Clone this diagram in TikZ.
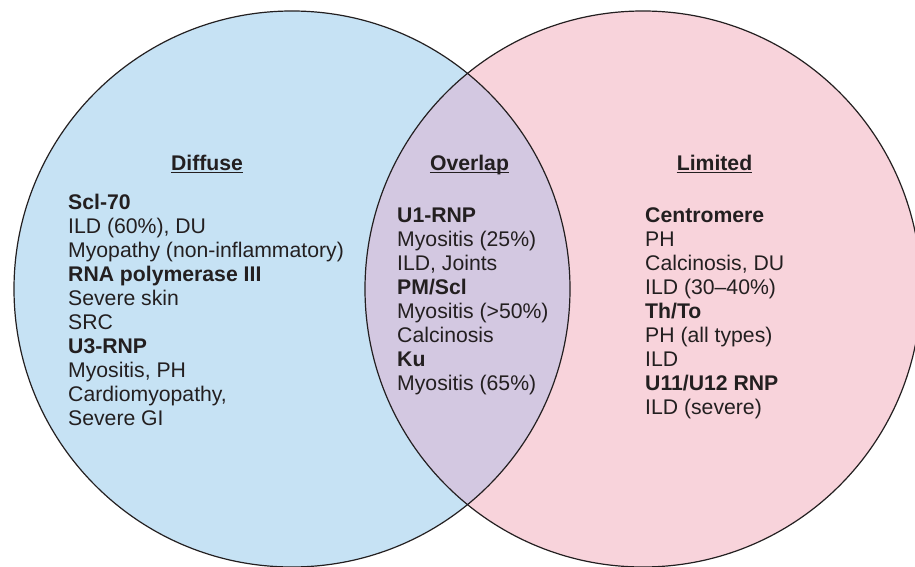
\documentclass[tikz,border=0pt]{standalone}
\usepackage{fontspec}
\setmainfont{Liberation Sans}
\definecolor{diffblue}{HTML}{C6E2F4}
\definecolor{limpink}{HTML}{F8D3DB}
\definecolor{ovpurple}{HTML}{D3C8E1}
\definecolor{edge}{HTML}{231F20}
\tikzset{
  txt/.style={inner sep=0pt, anchor=base west, font=\fontsize{21.2}{24}\selectfont, text=edge},
  hdr/.style={inner sep=0pt, anchor=base, font=\fontsize{21.2}{24}\selectfont\bfseries, text=edge},
  ring/.style={draw=edge, line width=1.2pt},
  uline/.style={draw=edge, line width=1.3pt}
}
\begin{document}
\begin{tikzpicture}[x=1pt,y=-1pt]
\useasboundingbox (0,0) rectangle (915,567);
\coordinate (cl) at (292,289);
\coordinate (cr) at (643,289);
\fill[diffblue] (cl) circle[radius=278pt];
\fill[limpink] (cr) circle[radius=278pt];
\begin{scope}
  \clip (cl) circle[radius=278pt];
  \fill[ovpurple] (cr) circle[radius=278pt];
\end{scope}
\draw[ring] (cl) circle[radius=278pt];
\draw[ring] (cr) circle[radius=278pt];

% headers
\node[hdr] (hd) at (207,170) {Diffuse};
\node[hdr] (ho) at (469.5,170) {Overlap};
\node[hdr] (hl) at (714.5,170) {Limited};
\foreach \h in {hd,ho,hl}
  \draw[uline] ([yshift=-2.8pt]\h.base west) -- ([yshift=-2.8pt]\h.base east);

% diffuse
\foreach \t [count=\i] in {{\bfseries Scl-70},{ILD (60\%), DU},{Myopathy (non-inflammatory)},{\bfseries RNA polymerase III},{Severe skin},{SRC},{\bfseries U3-RNP},{Myositis, PH},{Cardiomyopathy,},{Severe GI}}
  \node[txt] (d\i) at (68,{209+24*(\i-1)}) {\t};

% overlap
\foreach \t [count=\i] in {{\bfseries U1-RNP},{Myositis (25\%)},{ILD, Joints},{\bfseries PM/Scl},{Myositis (>50\%)},{Calcinosis},{\bfseries Ku},{Myositis (65\%)}}
  \node[txt] (o\i) at (397,{222+24*(\i-1)}) {\t};

% limited
\foreach \t [count=\i] in {{\bfseries Centromere},{PH},{Calcinosis, DU},{ILD (30--40\%)},{\bfseries Th/To},{PH (all types)},{ILD},{\bfseries U11/U12 RNP},{ILD (severe)}}
  \node[txt] (l\i) at (645,{222+24*(\i-1)}) {\t};
\end{tikzpicture}
\end{document}
